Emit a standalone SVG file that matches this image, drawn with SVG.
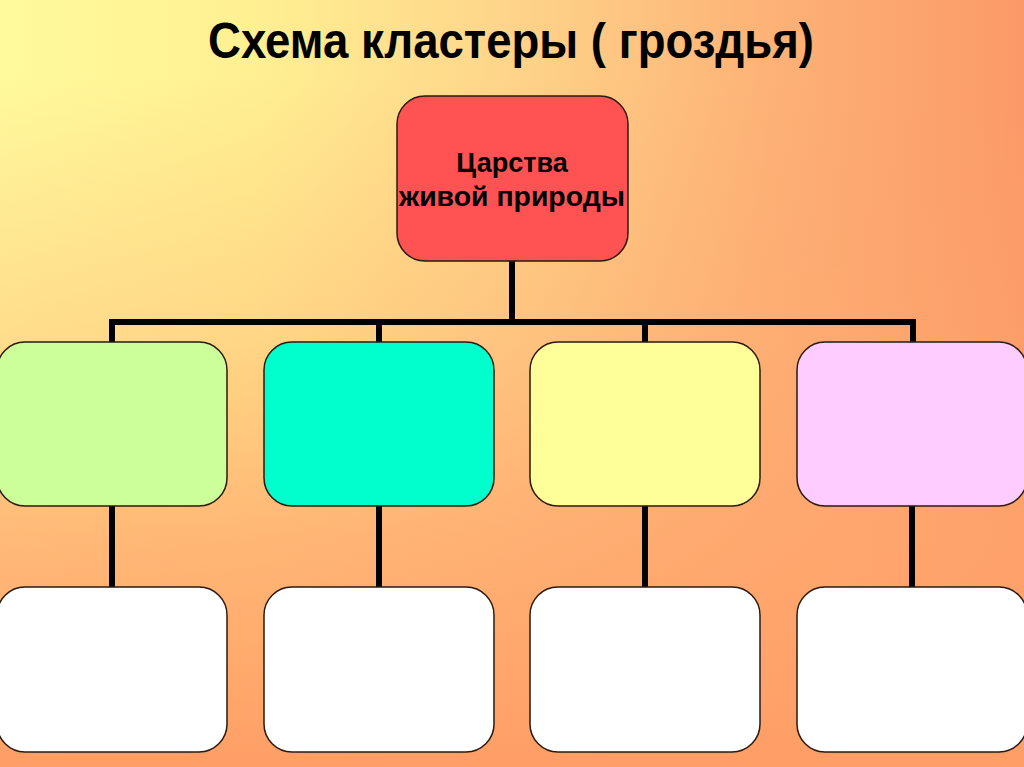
<svg xmlns="http://www.w3.org/2000/svg" width="1024" height="767" viewBox="0 0 1024 767">
<defs>
<linearGradient id="bgH" x1="0" y1="0" x2="1" y2="0">
<stop offset="0" stop-color="#fffa9c"/>
<stop offset="0.25" stop-color="#fff092"/>
<stop offset="0.5" stop-color="#fed48a"/>
<stop offset="0.75" stop-color="#fdb276"/>
<stop offset="1" stop-color="#fb9a68"/>
</linearGradient>
<linearGradient id="bgV" x1="0" y1="0" x2="0" y2="1">
<stop offset="0.1" stop-color="#ff9e68" stop-opacity="0"/>
<stop offset="0.45" stop-color="#ffa56c" stop-opacity="0.35"/>
<stop offset="0.7" stop-color="#ffa46c" stop-opacity="0.75"/>
<stop offset="1" stop-color="#ff9e66" stop-opacity="1"/>
</linearGradient>
<style>
.box{stroke:#2a1a10;stroke-width:1.5}
.conn{stroke:#000;stroke-width:6;fill:none;stroke-linecap:butt}
.t{font-family:"Liberation Sans",Arial,sans-serif;font-weight:bold;fill:#000}
</style>
</defs>
<rect x="0" y="0" width="1024" height="767" fill="url(#bgH)"/>
<rect x="0" y="0" width="1024" height="767" fill="url(#bgV)"/>
<text class="t" x="511" y="58" font-size="50" text-anchor="middle" textLength="606" lengthAdjust="spacingAndGlyphs">Схема кластеры ( гроздья)</text>
<g id="connectors">
<path class="conn" d="M512 261V322M112 342V322H913V342M379 322V342M645 322V342"/>
<path class="conn" d="M112 506V588M379 506V588M645 506V588M912 506V588"/>
</g>
<g id="root">
<rect class="box" x="397" y="96" width="231" height="165" rx="28" fill="#ff5252"/>
<text class="t" x="512" y="172" font-size="27" text-anchor="middle">Царства</text>
<text class="t" x="512" y="206" font-size="27" text-anchor="middle" textLength="226" lengthAdjust="spacingAndGlyphs">живой природы</text>
</g>
<g id="m1"><rect class="box" x="-3" y="342" width="230" height="164" rx="28" fill="#ccff99"/></g>
<g id="m2"><rect class="box" x="264" y="342" width="230" height="164" rx="28" fill="#00ffcc"/></g>
<g id="m3"><rect class="box" x="530" y="342" width="230" height="164" rx="28" fill="#ffff99"/></g>
<g id="m4"><rect class="box" x="797" y="342" width="230" height="164" rx="28" fill="#ffccff"/></g>
<g id="b1"><rect class="box" x="-3" y="587" width="230" height="165" rx="28" fill="#ffffff"/></g>
<g id="b2"><rect class="box" x="264" y="587" width="230" height="165" rx="28" fill="#ffffff"/></g>
<g id="b3"><rect class="box" x="530" y="587" width="230" height="165" rx="28" fill="#ffffff"/></g>
<g id="b4"><rect class="box" x="797" y="587" width="230" height="165" rx="28" fill="#ffffff"/></g>
</svg>
